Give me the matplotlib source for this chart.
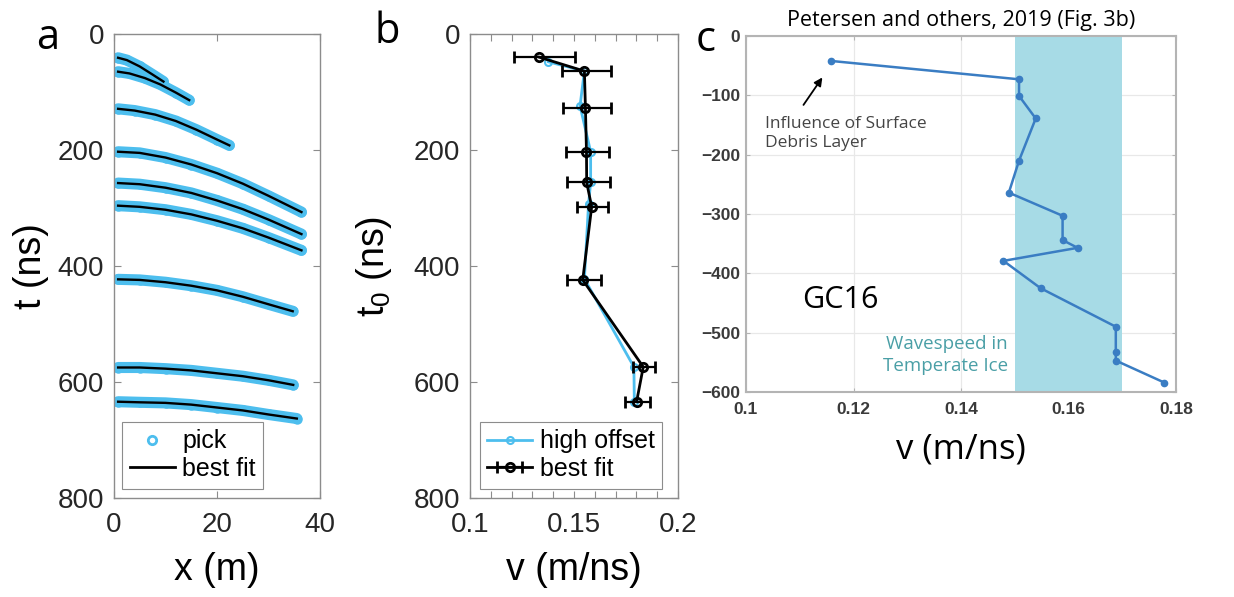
import numpy as np
import matplotlib
matplotlib.use("Agg")
import matplotlib.pyplot as plt
from matplotlib.lines import Line2D

plt.rcParams['font.family'] = ['Liberation Sans', 'DejaVu Sans']
plt.rcParams['mathtext.fontset'] = 'custom'
plt.rcParams['mathtext.rm'] = 'Liberation Sans'

# ---- panel a : picked reflections (x in m, t in ns) ----
ev1_x = [0.8, 2.5, 5, 7.5, 9.6]
ev1_t = [41, 45, 56, 70, 82]
ev2_x = [0.8, 3, 6, 9, 12, 14.6]
ev2_t = [65, 68, 76, 87, 101, 114]
ev3_x = [0.8, 4, 8, 12, 16, 20, 22.4]
ev3_t = [129, 132, 139, 150, 165, 182, 192]
ev4_x = [0.8, 5, 10, 15, 20, 25, 30, 36.4]
ev4_t = [203, 205, 213, 225, 240, 258, 279, 307]
ev5_x = [0.8, 5, 10, 15, 20, 25, 30, 36.4]
ev5_t = [257, 259, 265, 274, 287, 302, 320, 345]
ev6_x = [0.8, 5, 10, 15, 20, 25, 30, 36.4]
ev6_t = [296, 298, 303, 311, 322, 335, 351, 373]
ev7_x = [0.8, 5, 10, 15, 20, 25, 30, 34.7]
ev7_t = [423, 424, 428, 434, 442, 453, 466, 478]
ev8_x = [0.8, 5, 10, 15, 20, 25, 30, 34.8]
ev8_t = [575, 575, 577, 580, 585, 590, 597, 605]
ev9_x = [0.8, 5, 10, 15, 20, 25, 30, 35.5]
ev9_t = [634, 635, 636, 639, 644, 649, 656, 663]

# ---- panel b : velocity profile ----
t0_fit = [40, 64, 128, 203, 256, 298, 424, 574, 634]
v_fit = [0.1333, 0.1550, 0.1555, 0.1560, 0.1561, 0.1585, 0.1542, 0.1833, 0.1801]
v_lo = [0.1210, 0.1440, 0.1449, 0.1460, 0.1465, 0.1516, 0.1465, 0.1785, 0.1745]
v_hi = [0.1505, 0.1676, 0.1680, 0.1670, 0.1673, 0.1662, 0.1628, 0.1889, 0.1865]
t0_high = [48, 64, 124, 203, 256, 293, 422, 574, 634]
v_high = [0.1377, 0.1550, 0.1529, 0.1580, 0.1580, 0.1570, 0.1550, 0.1788, 0.1790]

# ---- panel c : Petersen and others 2019 ----
v_pet = [0.1158, 0.1508, 0.1508, 0.1539, 0.1508, 0.1489, 0.1589, 0.1589,
         0.1617, 0.1479, 0.1548, 0.1688, 0.1688, 0.1688, 0.1778]
d_pet = [-42, -73, -101, -139, -210, -264, -303, -344,
         -357, -379, -425, -490, -533, -547, -584]
band_lo, band_hi = 0.15, 0.17

pick_col = '#4dbeee'
W, H = 1234, 597
fig = plt.figure(figsize=(W / 100, H / 100), dpi=100)
myriad = ['Open Sans', 'DejaVu Sans']


def box(l, t, r, b):
    return [l / W, 1 - b / H, (r - l) / W, (b - t) / H]


def matlab_axes(ax):
    for s in ax.spines.values():
        s.set_color('#8c8c8c')
        s.set_linewidth(1.0)
    ax.tick_params(direction='in', top=True, right=True, length=5,
                   width=0.8, color='#8c8c8c', labelsize=20,
                   labelcolor='#262626', pad=7)
    ax.tick_params(axis='x', pad=10)
    ax.tick_params(which='minor', direction='in', top=True, right=True,
                   length=5, width=0.8, color='#8c8c8c')


# panel a
axa = fig.add_axes(box(114, 34, 320, 498))
events = [(ev1_x, ev1_t), (ev2_x, ev2_t), (ev3_x, ev3_t), (ev4_x, ev4_t),
          (ev5_x, ev5_t), (ev6_x, ev6_t), (ev7_x, ev7_t), (ev8_x, ev8_t),
          (ev9_x, ev9_t)]
for ex, et in events:
    axa.plot(ex, et, '-', color=pick_col, lw=8, solid_capstyle='round')
    axa.plot(ex, et, 'o', color=pick_col, mfc='none', ms=6, mew=1.5)
for ex, et in events:
    axa.plot(ex, et, '-', color='k', lw=1.7)
axa.set_xlim(0, 40)
axa.set_ylim(800, 0)
axa.set_xticks([0, 20, 40])
axa.set_yticks([0, 200, 400, 600, 800])
matlab_axes(axa)
axa.set_xlabel('x (m)', fontsize=27, labelpad=10)
axa.set_ylabel('t (ns)', fontsize=27, labelpad=6)
ha = [Line2D([], [], ls='none', marker='o', color=pick_col, mfc='none', ms=6, mew=2),
      Line2D([], [], color='k', lw=2)]
leg = axa.legend(ha, ['pick', 'best fit'], loc='lower left',
                 bbox_to_anchor=(0.04, 0.02), fontsize=18, frameon=True,
                 fancybox=False, framealpha=1, edgecolor='#8c8c8c',
                 handlelength=1.8, handletextpad=0.3, borderpad=0.3,
                 labelspacing=0.15, borderaxespad=0)
leg.get_frame().set_linewidth(0.8)

# panel b
axb = fig.add_axes(box(470, 34, 678, 498))
hb1, = axb.plot(v_high, t0_high, '-o', color=pick_col, lw=2, ms=5, mfc='none', mew=1.5)
xerr = [np.array(v_fit) - np.array(v_lo), np.array(v_hi) - np.array(v_fit)]
hb2 = axb.errorbar(v_fit, t0_fit, xerr=xerr, fmt='-o', color='k', lw=2,
                   ms=6, mfc='none', mew=2, elinewidth=1.6, capsize=4, capthick=1.6)
axb.set_xlim(0.1, 0.2)
axb.set_ylim(800, 0)
axb.set_xticks([0.1, 0.15, 0.2])
axb.set_xticklabels(['0.1', '0.15', '0.2'])
axb.set_xticks(np.arange(0.11, 0.2, 0.01), minor=True)
axb.set_yticks([0, 200, 400, 600, 800])
matlab_axes(axb)
axb.set_xlabel('v (m/ns)', fontsize=27, labelpad=10)
axb.set_ylabel(r't$_\mathregular{0}$ (ns)', fontsize=27, labelpad=14)
leg = axb.legend([hb1, hb2], ['high offset', 'best fit'], loc='lower left',
                 bbox_to_anchor=(0.048, 0.02), fontsize=18, frameon=True,
                 fancybox=False, framealpha=1, edgecolor='#8c8c8c',
                 handlelength=1.8, handletextpad=0.3, borderpad=0.3,
                 labelspacing=0.15, borderaxespad=0)
leg.get_frame().set_linewidth(0.8)

# panel c
axc = fig.add_axes(box(746, 36, 1176, 392))
axc.axvspan(band_lo, band_hi, color='#a7dbe6', lw=0, zorder=1)
axc.plot(v_pet, d_pet, '-o', color='#3a7dc3', lw=1.8, ms=4.5, zorder=3)
axc.set_xlim(0.1, 0.18)
axc.set_ylim(-600, 0)
axc.set_xticks([0.1, 0.12, 0.14, 0.16, 0.18])
axc.set_xticklabels(['0.1', '0.12', '0.14', '0.16', '0.18'])
axc.set_yticks([0, -100, -200, -300, -400, -500, -600])
axc.grid(True, color='#e8e8e8', lw=0.9, zorder=0)
axc.set_axisbelow(True)
for s in axc.spines.values():
    s.set_color('#b4b4b4')
    s.set_linewidth(1.5)
axc.tick_params(direction='in', top=True, right=True, length=3, color='#b4b4b4',
                labelsize=12.5, labelcolor='#3a3a3a', pad=4)
axc.tick_params(axis='x', pad=7)
for lab in axc.get_xticklabels() + axc.get_yticklabels():
    lab.set_fontweight('bold')
axc.set_title('Petersen and others, 2019 (Fig. 3b)', fontsize=15.5,
              family=myriad, pad=7)
axc.set_xlabel('v (m/ns)', fontsize=25, family=myriad, labelpad=11)
axc.text(0.1175, -445, 'GC16', fontsize=22, family=myriad,
         ha='center', va='center')
axc.text(0.1487, -538, 'Wavespeed in\nTemperate Ice', fontsize=13.5, color='#4a9fa6',
         family=myriad, ha='right', va='center', linespacing=1.25)
axc.text(0.1035, -164, 'Influence of Surface\nDebris Layer', fontsize=12.5, color='#444444',
         family=myriad, ha='left', va='center', linespacing=1.25)
axc.annotate('', xy=(0.1145, -66), xytext=(0.1104, -120),
             arrowprops=dict(arrowstyle='-|>', color='k', lw=1.3, mutation_scale=12))

# panel letters
for lab, px, py in [('a', 48, 38), ('b', 387, 32), ('c', 706, 40)]:
    fig.text(px / W, 1 - py / H, lab, fontsize=30, family=myriad,
             ha='center', va='center')

fig.savefig('out.png', dpi=100)
